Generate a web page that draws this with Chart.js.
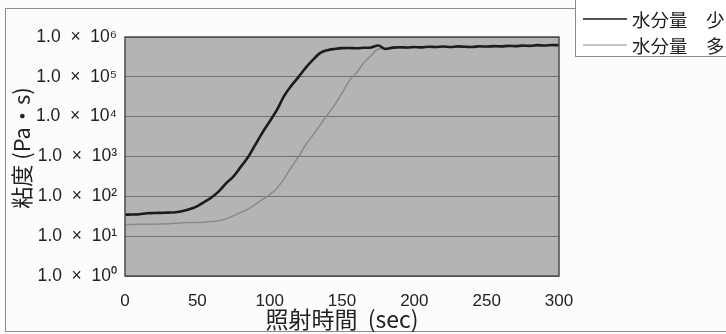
<!DOCTYPE html>
<html>
<head>
<meta charset="utf-8">
<script src="https://cdn.jsdelivr.net/npm/chart.js@4"></script>
<style>
  html, body { margin: 0; padding: 0; background: #fcfcfc; }
  #wrap { width: 726px; height: 334px; position: relative; }
</style>
</head>
<body>
<div id="wrap"><canvas id="c"></canvas></div>
<script>
// ---- data ----
const timeSec = [0,5,10,15,20,25,30,35,40,45,50,55,60,65,70,75,80,85,90,95,100,
  105,110,115,120,125,130,135,140,145,150,155,160,165,170,175,180,185,190,195,200,
  205,210,215,220,225,230,235,240,245,250,255,260,265,270,275,280,285,290,295,300];
const viscosityLowWater = [34.7,35,35.5,37.5,38,38.5,39,39.8,42.7,47.9,57,72.4,95,135,214,316,550,955,1950,3981,7586,
  14791,33113,60256,100000,169824,269153,398107,467735,501187,524807,530000,520000,535000,545000,610000,500000,540000,555000,545000,560000,
  550000,570000,560000,575000,560000,580000,570000,560000,585000,575000,590000,580000,600000,590000,610000,600000,625000,610000,630000,620000];
const viscosityHighWater = [19.5,19.6,19.8,19.9,20,20.2,20.4,21.2,21.6,21.9,22.1,22.4,23.2,24.5,27.5,32.4,39.8,47.9,63,83,110,
  160,275,537,1000,2000,3467,6310,11220,19950,38900,79430,125900,223900,338800,501200,520000,525000,540000,535000,545000,
  540000,555000,550000,560000,550000,565000,560000,550000,570000,565000,575000,570000,585000,580000,595000,590000,610000,600000,615000,610000];
const seriesLabels = ["水分量\u3000少", "水分量\u3000多"];
const xTickValues = [0,50,100,150,200,250,300];
const yTickValues = [1,10,100,1000,10000,100000,1000000];
const yTickLabels = ["1.0  ×  10⁰","1.0  ×  10¹","1.0  ×  10²","1.0  ×  10³","1.0  ×  10⁴","1.0  ×  10⁵","1.0  ×  10⁶"];
const xAxisTitle = "照射時間  (sec)";
const yAxisTitle = "粘度 (Pa・s)";

const FONT = "'Liberation Sans', 'Noto Sans CJK JP', sans-serif";
const CJK = "'Noto Sans CJK JP', 'Liberation Sans', sans-serif";

const toPts = (xs, ys) => xs.map((x, i) => ({x, y: ys[i]}));

const pagePlugin = {
  id: 'page',
  beforeDraw(chart) {
    const {ctx, chartArea: a} = chart;
    ctx.save();
    // outer frame of the figure
    ctx.strokeStyle = '#8c8c8c';
    ctx.lineWidth = 1;
    ctx.strokeRect(5.5, 8.5, 740, 323);
    // plot background
    ctx.fillStyle = '#b4b4b4';
    ctx.fillRect(a.left, a.top, a.right - a.left, a.bottom - a.top);
    ctx.restore();
  },
  afterDraw(chart) {
    const {ctx, chartArea: a} = chart;
    ctx.save();
    // plot border
    ctx.strokeStyle = '#4a4a4a';
    ctx.lineWidth = 1.5;
    ctx.strokeRect(a.left, a.top, a.right - a.left, a.bottom - a.top);
    // y axis title (rotated)
    ctx.save();
    ctx.translate(22, 148);
    ctx.rotate(-Math.PI / 2);
    ctx.fillStyle = '#222';
    ctx.font = '22px ' + CJK;
    ctx.textAlign = 'center';
    ctx.textBaseline = 'middle';
    ctx.fillText(yAxisTitle, 0, 0);
    ctx.restore();
    // legend box
    ctx.fillStyle = '#ffffff';
    ctx.fillRect(575.5, -2, 160, 58.5);
    ctx.strokeStyle = '#8a8a8a';
    ctx.lineWidth = 1;
    ctx.strokeRect(575.5, -2, 160, 58.5);
    const rows = [19, 45];
    chart.data.datasets.forEach((ds, i) => {
      const y = rows[i];
      ctx.strokeStyle = ds.borderColor;
      ctx.lineWidth = i === 0 ? 1.6 : 1.2;
      ctx.beginPath(); ctx.moveTo(583, y); ctx.lineTo(627, y); ctx.stroke();
      ctx.fillStyle = '#222';
      ctx.font = '18.5px ' + CJK;
      ctx.textBaseline = 'middle';
      ctx.textAlign = 'left';
      ctx.fillText(ds.label, 632, y + 1);
    });
    ctx.restore();
  }
};

new Chart(document.getElementById('c'), {
  type: 'line',
  data: {
    datasets: [
      { label: seriesLabels[0], data: toPts(timeSec, viscosityLowWater),
        borderColor: '#1c1c1c', borderWidth: 2.6, pointRadius: 0, cubicInterpolationMode: 'monotone' },
      { label: seriesLabels[1], data: toPts(timeSec, viscosityHighWater),
        borderColor: '#8a8a8a', borderWidth: 1.5, pointRadius: 0, cubicInterpolationMode: 'monotone' }
    ]
  },
  options: {
    responsive: true,
    maintainAspectRatio: false,
    animation: false,
    events: [],
    layout: { padding: { left: 0, right: 167, top: 37, bottom: 0 } },
    plugins: { legend: { display: false }, tooltip: { enabled: false } },
    scales: {
      x: {
        type: 'linear', min: 0, max: 300,
        afterBuildTicks: s => { s.ticks = xTickValues.map(v => ({value: v})); },
        afterFit: s => { s.height = 58; },
        grid: { display: false, drawTicks: false },
        border: { display: false },
        ticks: { padding: 15, color: '#222', font: { family: FONT, size: 17 }, maxRotation: 0 },
        title: { display: true, text: xAxisTitle, color: '#222',
                 font: { family: CJK, size: 23 }, padding: { top: 0, bottom: 1 } }
      },
      y: {
        type: 'logarithmic', min: 1, max: 1000000,
        afterBuildTicks: s => { s.ticks = yTickValues.map(v => ({value: v})); },
        afterFit: s => { s.width = 125; },
        grid: { color: '#727272', lineWidth: 1, drawTicks: false },
        border: { display: false },
        ticks: { padding: 8, color: '#222', font: { family: FONT, size: 17.5 },
                 callback: (v) => { const i = yTickValues.indexOf(v); return i >= 0 ? yTickLabels[i] : ''; } },
        title: { display: false }
      }
    }
  },
  plugins: [pagePlugin]
});
</script>
</body>
</html>
